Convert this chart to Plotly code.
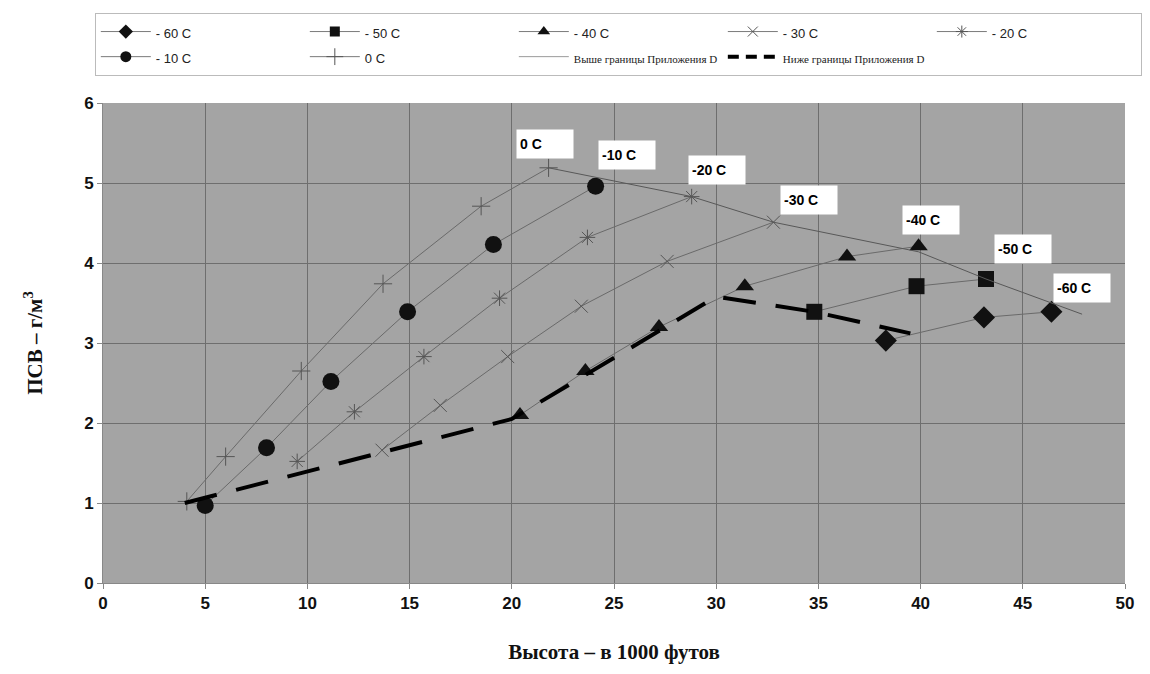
import plotly.graph_objects as go

# ---- data ----
series_names = ["- 60 C", "- 50 C", "- 40 C", "- 30 C", "- 20 C", "- 10 C", "0 C"]

x_m60 = [38.3, 43.1, 46.4]
y_m60 = [3.03, 3.32, 3.39]

x_m50 = [34.8, 39.8, 43.2]
y_m50 = [3.39, 3.71, 3.80]

x_m40 = [20.4, 23.6, 27.2, 31.4, 36.4, 39.9]
y_m40 = [2.10, 2.65, 3.20, 3.71, 4.08, 4.21]

x_m30 = [13.65, 16.5, 19.8, 23.4, 27.6, 32.8]
y_m30 = [1.66, 2.22, 2.83, 3.46, 4.02, 4.51]

x_m20 = [9.5, 12.3, 15.7, 19.4, 23.7, 28.8]
y_m20 = [1.52, 2.14, 2.83, 3.56, 4.32, 4.83]

x_m10 = [5.0, 8.0, 11.15, 14.9, 19.1, 24.1]
y_m10 = [0.97, 1.69, 2.52, 3.39, 4.23, 4.96]

x_0 = [4.1, 6.0, 9.7, 13.7, 18.5, 21.8]
y_0 = [1.02, 1.58, 2.65, 3.74, 4.71, 5.19]

x_upper = [21.8, 28.8, 32.8, 39.9, 43.2, 47.9]
y_upper = [5.19, 4.83, 4.51, 4.14, 3.80, 3.36]

x_lower = [4.0, 20.0, 30.0, 34.8, 39.5]
y_lower = [1.0, 2.05, 3.58, 3.39, 3.12]

upper_name = "Выше границы Приложения D"
lower_name = "Ниже границы Приложения D"

label_texts = ["0 C", "-10 C", "-20 C", "-30 C", "-40 C", "-50 C", "-60 C"]
label_x = [21.62, 25.66, 30.06, 34.54, 40.5, 45.0, 47.9]
label_y = [5.49, 5.35, 5.16, 4.79, 4.54, 4.18, 3.69]

x_ticks = [0, 5, 10, 15, 20, 25, 30, 35, 40, 45, 50]
y_ticks = [0, 1, 2, 3, 4, 5, 6]

# ---- styles ----
LINE_C = "#6a6a6a"
MK_C = "#111111"
SANS = "Liberation Sans, Arial"
SERIF = "Liberation Serif, Times New Roman"

fig = go.Figure()

def leg_sans(t):
    return '<span style="font-size:13px">' + t + '</span>'

def leg_serif(t):
    return '<span style="font-family:Liberation Serif;font-size:11px">' + t + '</span>'

def marker_style(symbol, size, filled):
    if filled:
        return dict(symbol=symbol, size=size, color=MK_C, line=dict(width=0))
    return dict(symbol=symbol, size=size, color="#555555", line=dict(width=1, color="#555555"))

series = [
    (x_m60, y_m60, series_names[0], "diamond", 17, 11, True),
    (x_m50, y_m50, series_names[1], "square", 16, 10, True),
    (x_m40, y_m40, series_names[2], "triangle-up", 16, 11, True),
    (x_m30, y_m30, series_names[3], "x-thin-open", 13, 10, False),
    (x_m20, y_m20, series_names[4], "asterisk-open", 13, 10, False),
    (x_m10, y_m10, series_names[5], "circle", 17, 11, True),
    (x_0, y_0, series_names[6], "cross-thin-open", 13, 12, False),
]

# plotted series (legend drawn by small-marker entries below)
for x, y, name, sym, size, lsize, filled in series:
    fig.add_trace(go.Scatter(x=x, y=y, name=name, mode="lines+markers", showlegend=False,
                             line=dict(color=LINE_C, width=1),
                             marker=marker_style(sym, size, filled)))

fig.add_trace(go.Scatter(x=x_upper, y=y_upper, mode="lines", showlegend=False,
                         name=upper_name, line=dict(color="#585858", width=1)))
fig.add_trace(go.Scatter(x=x_lower, y=y_lower, mode="lines", showlegend=False,
                         name=lower_name,
                         line=dict(color="#000000", width=4, dash="33px,20px")))

# legend entries
for x, y, name, sym, size, lsize, filled in series:
    fig.add_trace(go.Scatter(x=[None], y=[None], name=leg_sans(name), mode="lines+markers",
                             line=dict(color="#7a7a7a", width=1),
                             marker=marker_style(sym, lsize, filled)))
fig.add_trace(go.Scatter(x=[None], y=[None], mode="lines", name=leg_serif(upper_name),
                         line=dict(color="#9a9a9a", width=1)))
fig.add_trace(go.Scatter(x=[None], y=[None], mode="lines", name=leg_serif(lower_name),
                         line=dict(color="#000000", width=4, dash="11px,7px")))

annotations = []
for t, ax_, ay_ in zip(label_texts, label_x, label_y):
    annotations.append(dict(x=ax_, y=ay_, xref="x", yref="y", text=t,
                            showarrow=False, bgcolor="white", width=50, height=22,
                            align="left", borderpad=3, xanchor="center", yanchor="middle",
                            font=dict(family=SANS, size=14, color="#000", weight="bold")))

fig.update_layout(
    width=1150, height=674,
    paper_bgcolor="white",
    plot_bgcolor="#a4a4a4",
    margin=dict(l=95, r=33, t=95, b=99, autoexpand=False),
    font=dict(family=SANS, size=13, color="#222"),
    showlegend=True,
    legend=dict(orientation="h", x=-0.008, xanchor="left", y=1.1875, yanchor="top",
                bgcolor="white", bordercolor="#bbbbbb", borderwidth=1,
                entrywidth=144, entrywidthmode="pixels", itemwidth=50,
                font=dict(family=SANS, size=17, color="#222"),
                traceorder="normal"),
    annotations=annotations,
    xaxis=dict(range=[0, 50], tickvals=x_ticks, showgrid=True, gridcolor="#6e6e6e",
               gridwidth=1, zeroline=False, showline=True, linecolor="#888888",
               ticks="outside", ticklen=5, tickcolor="#888888",
               tickfont=dict(family=SANS, size=17, color="#111", weight="bold"),
               title=dict(text="Высота – в 1000 футов", standoff=31,
                          font=dict(family=SERIF, size=21, color="#111", weight="bold"))),
    yaxis=dict(range=[0, 6], tickvals=y_ticks, showgrid=True, gridcolor="#6e6e6e",
               gridwidth=1, zeroline=False, showline=True, linecolor="#888888",
               ticks="outside", ticklen=5, tickcolor="#888888",
               tickfont=dict(family=SANS, size=17, color="#111", weight="bold"),
               title=dict(text="ПСВ – г/м<sup>3</sup>", standoff=35,
                          font=dict(family=SERIF, size=21, color="#111", weight="bold"))),
)

fig.write_html("out.html")
